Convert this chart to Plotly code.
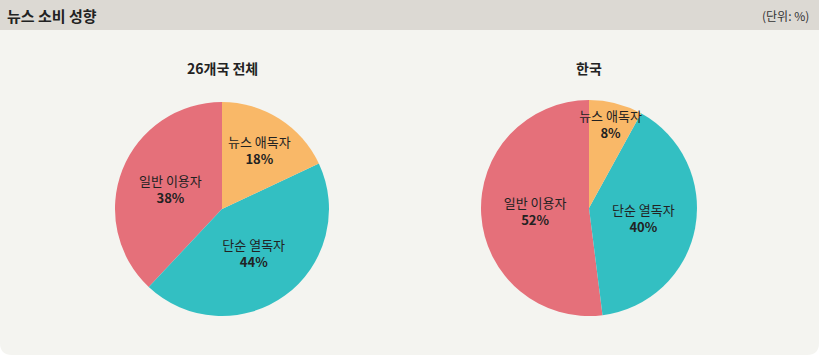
import plotly.graph_objects as go

chart_title = "뉴스 소비 성향"
unit_label = "(단위: %)"
categories = ["뉴스 애독자", "단순 열독자", "일반 이용자"]
group_titles = ["26개국 전체", "한국"]
values_all = [18, 44, 38]
values_korea = [8, 40, 52]
colors = ["#f9b868", "#33bfc2", "#e5707a"]

W, H = 819, 355
FONT = "Noto Sans CJK KR"

fig = go.Figure()

pies = [
    (values_all, (222, 209), 107),
    (values_korea, (589, 208), 108),
]
for vals, (cx, cy), r in pies:
    rev = vals[::-1]
    # drawn in reverse order, counterclockwise, so the first category's
    # label is painted last (on top) while the layout stays clockwise
    # from 12 o'clock (plotly puts the first ccw slice after `rotation`)
    rot = -360.0 * rev[0] / sum(rev)
    fig.add_trace(go.Pie(
        labels=categories[::-1],
        values=rev,
        sort=False,
        direction="counterclockwise",
        rotation=rot,
        marker=dict(colors=colors[::-1], line=dict(width=0)),
        texttemplate="%{label}<br><b>%{value}%</b>",
        textposition="inside",
        insidetextorientation="horizontal",
        textfont=dict(family=FONT, size=13, color="#222222"),
        hoverinfo="label+value",
        showlegend=False,
        domain=dict(x=[(cx - r) / W, (cx + r) / W],
                    y=[(H - cy - r) / H, (H - cy + r) / H]),
    ))

# background: header band and rounded body
rad = 12
body_top = 30
path = (f"M 0,{H - body_top} L {W},{H - body_top} L {W},{rad} "
        f"Q {W},0 {W - rad},0 L {rad},0 Q 0,0 0,{rad} Z")
fig.add_shape(type="path", xref="x", yref="y", path=path,
              fillcolor="#f4f4f0", line=dict(width=0), layer="below")
fig.add_shape(type="rect", xref="x", yref="y", x0=0, x1=W, y0=H - body_top, y1=H,
              fillcolor="#dcd9d3", line=dict(width=0), layer="below")

fig.update_xaxes(range=[0, W], visible=False, fixedrange=True)
fig.update_yaxes(range=[0, H], visible=False, fixedrange=True)

anns = [
    dict(x=5, y=H - 15, text=f"<b>{chart_title}</b>", xanchor="left", yanchor="middle",
         font=dict(family=FONT, size=15, color="#222222")),
    dict(x=811, y=H - 15, text=unit_label, xanchor="right", yanchor="middle",
         font=dict(family=FONT, size=12, color="#333333")),
    dict(x=222, y=H - 68, text=f"<b>{group_titles[0]}</b>", xanchor="center", yanchor="middle",
         font=dict(family=FONT, size=14, color="#222222")),
    dict(x=589, y=H - 68, text=f"<b>{group_titles[1]}</b>", xanchor="center", yanchor="middle",
         font=dict(family=FONT, size=14, color="#222222")),
]
for a in anns:
    a.update(xref="x", yref="y", showarrow=False)
fig.update_layout(
    width=W, height=H,
    margin=dict(l=0, r=0, t=0, b=0),
    paper_bgcolor="white",
    plot_bgcolor="rgba(0,0,0,0)",
    annotations=anns,
    uniformtext=dict(minsize=13, mode="show"),
)

fig.write_html("out.html")
